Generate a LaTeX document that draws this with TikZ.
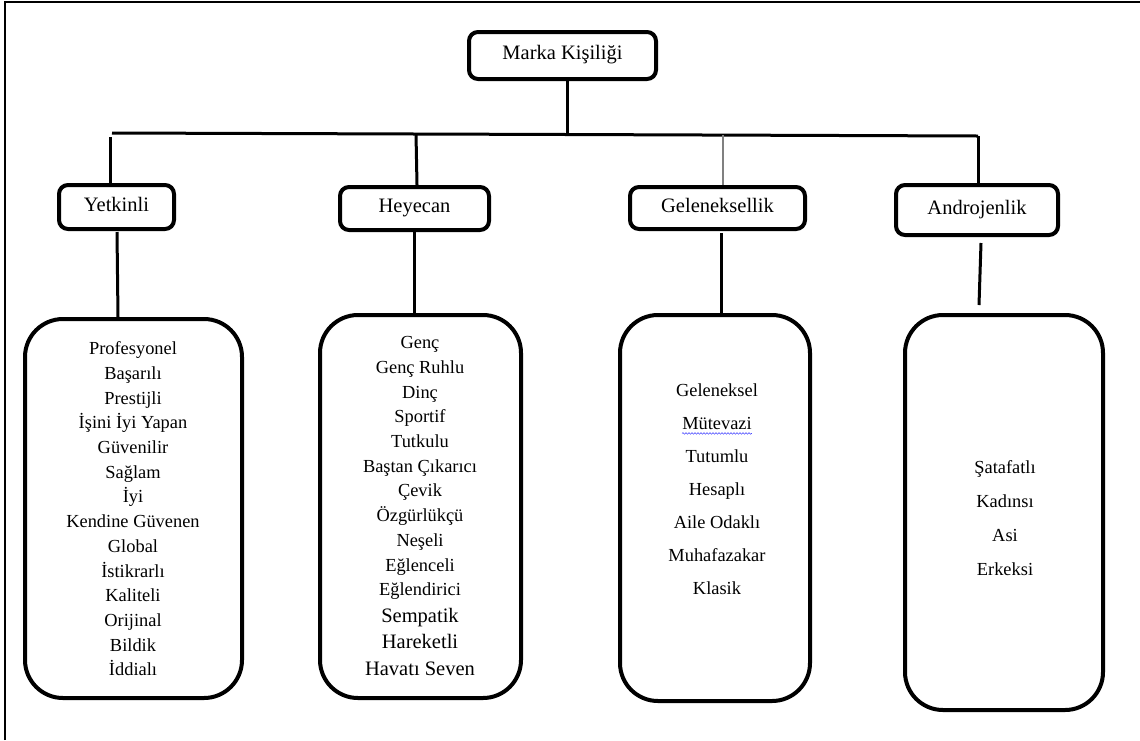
\documentclass[tikz,border=0pt]{standalone}
\usepackage{fontspec}
\setmainfont{Liberation Serif}
\usetikzlibrary{decorations.pathmorphing}
\begin{document}
\begin{tikzpicture}[x=1pt,y=-1pt,
  hbox/.style={draw, line width=4pt, rounded corners=9pt, inner sep=0pt,
    text height=0.85em, text depth=0.05em,
    font=\fontsize{20.5}{24}\selectfont},
  lbox/.style={draw, line width=4pt, rounded corners=38pt, inner sep=0pt},
  item/.style={inner sep=0pt, text height=0.8em, text depth=0.05em,
    font=\fontsize{18.4}{22}\selectfont},
  bigitem/.style={item, font=\fontsize{20.5}{24}\selectfont},
  link/.style={line width=3pt},
  thinlink/.style={line width=2.4pt, gray},
]
\useasboundingbox (0,0) rectangle (1140,740);

% page frame
\draw[line width=2pt] (5,740) -- (5,2) -- (1140,2);

% root
\node[hbox, minimum width=187pt, minimum height=47pt] (mk) at (562.5,55.5) {Marka Kişiliği};

% category boxes
\node[hbox, minimum width=115pt, minimum height=44pt] (yet) at (116.5,207) {Yetkinli};
\node[hbox, minimum width=149pt, minimum height=43pt] (hey) at (414.5,208.5) {Heyecan};
\node[hbox, minimum width=175pt, minimum height=42pt] (gel) at (717.5,208) {Geleneksellik};
\node[hbox, minimum width=162pt, minimum height=50pt] (and) at (977,210) {Androjenlik};

% trait boxes
\node[lbox, minimum width=217pt, minimum height=379pt] (ly) at (133.5,508.5) {};
\node[lbox, minimum width=201pt, minimum height=383pt] (lh) at (420.5,506.5) {};
\node[lbox, minimum width=190pt, minimum height=386pt] (lg) at (715,508) {};
\node[lbox, minimum width=198pt, minimum height=395pt] (la) at (1004,512.5) {};

% bus line
\coordinate (bl) at (112,133);
\coordinate (bm) at (567,134.5);
\coordinate (br) at (978,136);
\draw[link] (bl) -- (bm) -- (br);

\coordinate (jy) at (110,137);
\coordinate (jh) at (416,134);
\coordinate (jg) at (723,135);

\draw[link] (mk.south -| bm) -- (bm);
\draw[link] (jy) -- (jy |- yet.north);
\draw[link] (jh) -- (417,185);
\draw[thinlink] (jg) -- (jg |- gel.north);
\draw[link] (br) -- (br |- and.north);

% lower links
\draw[link] (117,232) -- (118,317);
\draw[link] (hey.south) -- (hey.south |- lh.north);
\draw[link] (721,233) -- (721,313);
\coordinate (a1) at (981,243);
\coordinate (a2) at (979,305);
\draw[link] (a1) -- (a2);

% Yetkinli traits
\foreach \t [count=\i] in {Profesyonel, Başarılı, Prestijli, İşini İyi Yapan,
  Güvenilir, Sağlam, İyi, Kendine Güvenen, Global, İstikrarlı, Kaliteli,
  Orijinal, Bildik, İddialı}
  \node[item] (yt\i) at (133,351+24.7*\i-24.7) {\t};

% Heyecan traits
\foreach \t [count=\i] in {Genç, Genç Ruhlu, Dinç, Sportif, Tutkulu,
  Baştan Çıkarıcı, Çevik, Özgürlükçü, Neşeli, Eğlenceli, Eğlendirici}
  \node[item] (ht\i) at (420,345+24.7*\i-24.7) {\t};
\node[bigitem] (ht12) at (420,618.5) {Sempatik};
\node[bigitem] (ht13) at (420,645) {Hareketli};
\node[bigitem] (ht14) at (420,671.5) {Havatı Seven};

% Geleneksellik traits
\foreach \t [count=\i] in {Geleneksel, Mütevazi, Tutumlu, Hesaplı,
  Aile Odaklı, Muhafazakar, Klasik}
  \node[item] (gt\i) at (717,393+33*\i-33) {\t};
\draw[blue!70, line width=0.6pt, decorate,
  decoration={snake, segment length=3pt, amplitude=0.8pt}]
  ([yshift=-3pt]gt2.south west) -- ([yshift=-3pt]gt2.south east);

% Androjenlik traits
\foreach \t [count=\i] in {Şatafatlı, Kadınsı, Asi, Erkeksi}
  \node[item] (at\i) at (1005,470+34*\i-34) {\t};
\end{tikzpicture}
\end{document}
